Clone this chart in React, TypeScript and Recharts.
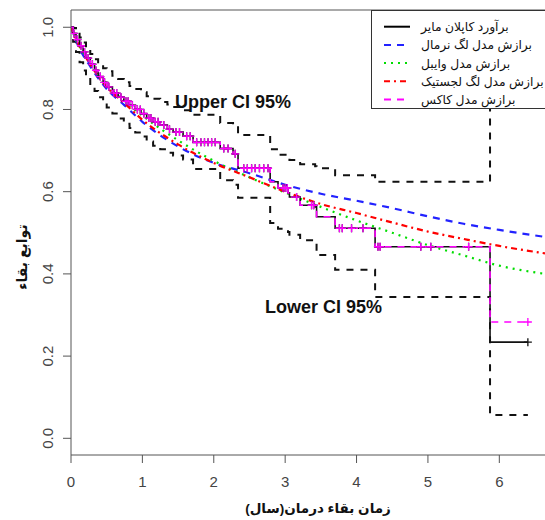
import React from "react";
import {
  ComposedChart,
  Line,
  Scatter,
  XAxis,
  YAxis,
  ReferenceLine,
  Legend,
} from "recharts";

// axis ticks
const xTicks = [0, 1, 2, 3, 4, 5, 6];
const yTicks = [0, 0.2, 0.4, 0.6, 0.8, 1.0];

// Kaplan-Meier step estimate and 95% CI (event times in years)
const kmTimes = [
  0, 0.03, 0.07, 0.12, 0.17, 0.21, 0.27, 0.33, 0.38, 0.45, 0.5, 0.58, 0.66,
  0.74, 0.82, 0.9, 0.98, 1.06, 1.15, 1.25, 1.35, 1.43, 1.57, 1.71, 2.09, 2.27,
  2.34, 2.79, 2.9, 3.04, 3.06, 3.21, 3.42, 3.44, 3.7, 4.26, 5.87, 6.4,
];
const kmSurv = [
  1.0, 0.985, 0.97, 0.955, 0.94, 0.925, 0.91, 0.895, 0.88, 0.866, 0.855, 0.84,
  0.83, 0.82, 0.81, 0.8, 0.79, 0.779, 0.77, 0.762, 0.752, 0.745, 0.735, 0.72,
  0.705, 0.692, 0.657, 0.624, 0.609, 0.597, 0.587, 0.567, 0.563, 0.539, 0.511,
  0.466, 0.234, 0.234,
];
const coxSurv = [
  1.0, 0.985, 0.97, 0.955, 0.94, 0.925, 0.91, 0.895, 0.88, 0.866, 0.855, 0.84,
  0.83, 0.82, 0.81, 0.8, 0.79, 0.779, 0.77, 0.762, 0.752, 0.745, 0.735, 0.72,
  0.705, 0.692, 0.657, 0.624, 0.609, 0.597, 0.587, 0.567, 0.563, 0.539, 0.511,
  0.466, 0.283, 0.283,
];
const ciUpper = [
  1.0, 0.998, 0.99, 0.975, 0.963, 0.95, 0.935, 0.922, 0.91, 0.9, 0.893, 0.882,
  0.874, 0.866, 0.857, 0.85, 0.842, 0.832, 0.826, 0.818, 0.812, 0.806, 0.798,
  0.787, 0.767, 0.762, 0.738, 0.703, 0.69, 0.682, 0.677, 0.667, 0.662, 0.657,
  0.64, 0.624, 1.0, 1.0,
];
const ciLower = [
  1.0, 0.965, 0.94, 0.915, 0.895, 0.88, 0.862, 0.845, 0.83, 0.815, 0.805, 0.79,
  0.778, 0.765, 0.755, 0.744, 0.734, 0.722, 0.712, 0.703, 0.695, 0.688, 0.678,
  0.655, 0.628, 0.617, 0.585, 0.524, 0.51, 0.502, 0.495, 0.482, 0.475, 0.446,
  0.41, 0.344, 0.057, 0.057,
];

// fitted parametric survival curves
const fitTimes = [0, 0.1, 0.25, 0.5, 0.75, 1, 1.5, 2, 2.5, 3, 3.5, 4, 4.5, 5, 5.5, 6, 6.64];
const logNormal = [1.0, 0.955, 0.91, 0.85, 0.81, 0.77, 0.71, 0.67, 0.645, 0.617, 0.595, 0.578, 0.56, 0.54, 0.522, 0.507, 0.49];
const weibull = [1.0, 0.96, 0.92, 0.86, 0.82, 0.785, 0.725, 0.675, 0.635, 0.598, 0.563, 0.53, 0.5, 0.47, 0.445, 0.42, 0.4];
const logLogistic = [1.0, 0.96, 0.915, 0.855, 0.815, 0.775, 0.715, 0.67, 0.635, 0.6, 0.57, 0.548, 0.525, 0.503, 0.485, 0.468, 0.45];

// censored observations
const censorTimes = [
  0.04, 0.09, 0.14, 0.19, 0.24, 0.3, 0.35, 0.41, 0.47, 0.53, 0.6, 0.64, 0.7,
  0.77, 0.8, 0.86, 0.93, 0.97, 1.02, 1.09, 1.12, 1.18, 1.22, 1.3, 1.38, 1.47,
  1.52, 1.62, 1.67, 1.76, 1.82, 1.87, 1.92, 1.97, 2.02, 2.14, 2.2, 2.3, 2.42,
  2.47, 2.53, 2.58, 2.64, 2.7, 2.76, 2.97, 3.0, 3.03, 3.16, 3.37, 3.4, 3.76,
  3.8, 3.93, 4.09, 4.3, 4.33, 4.9, 5.04, 5.57, 6.4,
];

const legendLabels = [
  "برآورد کاپلان مایر",
  "برازش مدل لگ نرمال",
  "برازش مدل وایبل",
  "برازش مدل لگ لجستیک",
  "برازش مدل کاکس",
];
const legendStyles = [
  { color: "#000000", dash: undefined },
  { color: "#2222ff", dash: "7 6" },
  { color: "#00dd00", dash: "2 5" },
  { color: "#ff0000", dash: "6 4 2 4" },
  { color: "#ff00ff", dash: "7 6" },
];

const toRows = (times: number[], vals: number[]) =>
  times.map((t, i) => ({ t, s: vals[i] }));

// value of a step curve at time t
const stepAt = (times: number[], vals: number[], t: number) => {
  let v = vals[0];
  for (let i = 0; i < times.length; i++) if (times[i] <= t) v = vals[i];
  return v;
};

const kmRows = toRows(kmTimes, kmSurv);
const coxRows = toRows(kmTimes, coxSurv);
const upperRows = toRows(kmTimes, ciUpper);
const lowerRows = toRows(kmTimes, ciLower);
const lnRows = toRows(fitTimes, logNormal);
const wbRows = toRows(fitTimes, weibull);
const llRows = toRows(fitTimes, logLogistic);
const kmCensor = censorTimes.map((t) => ({ t, s: stepAt(kmTimes, kmSurv, t) }));
const coxCensor = censorTimes.map((t) => ({ t, s: stepAt(kmTimes, coxSurv, t) }));

const FONT = "'Liberation Sans', Arial, 'DejaVu Sans', sans-serif";

const plus = (color: string) => (props: any) => {
  const { cx, cy } = props;
  return (
    <path
      d={`M${cx - 4},${cy}H${cx + 4}M${cx},${cy - 4}V${cy + 4}`}
      stroke={color}
      strokeWidth={1.3}
      fill="none"
    />
  );
};

const YTick = (props: any) => {
  const { x, y, payload } = props;
  return (
    <g transform={`translate(${x - 8},${y}) rotate(-90)`}>
      <text textAnchor="middle" fill="#444" fontSize={15} fontFamily={FONT}>
        {Number(payload.value).toFixed(1)}
      </text>
    </g>
  );
};

const LegendBox = () => (
  <svg width={174} height={100} style={{ display: "block" }}>
    <rect x={0.5} y={0.5} width={220} height={98} fill="#fff" stroke="#333" />
    {legendLabels.map((label, i) => {
      const cy = 16.7 + i * 18.2;
      return (
        <g key={label}>
          <line
            x1={13}
            x2={39}
            y1={cy}
            y2={cy}
            stroke={legendStyles[i].color}
            strokeWidth={2}
            strokeDasharray={legendStyles[i].dash}
          />
          <text x={50} y={cy + 4.5} fontSize={12.3} fontFamily={FONT} fill="#111">
            {label}
          </text>
        </g>
      );
    })}
  </svg>
);

export default function App() {
  return (
    <div style={{ position: "absolute", left: 0, top: 0, fontFamily: FONT }}>
      <ComposedChart
        width={545}
        height={520}
        margin={{ top: 10, right: 0, bottom: 0, left: 0 }}
      >
        <XAxis
          dataKey="t"
          type="number"
          domain={[0, 6.64]}
          ticks={xTicks}
          allowDataOverflow
          height={65}
          tickSize={8}
          tickMargin={13}
          stroke="#555"
          tick={{ fill: "#444", fontSize: 15, fontFamily: FONT }}
        />
        <YAxis
          type="number"
          domain={[-0.0406, 1.042]}
          ticks={yTicks}
          allowDataOverflow
          width={71}
          tickSize={8}
          stroke="#555"
          tick={<YTick />}
        />
        <ReferenceLine y={1.042} stroke="#555" />

        <Line data={upperRows} dataKey="s" type="stepAfter" stroke="#111" strokeWidth={2} strokeDasharray="7 7" dot={false} isAnimationActive={false} />
        <Line data={lowerRows} dataKey="s" type="stepAfter" stroke="#111" strokeWidth={2} strokeDasharray="7 7" dot={false} isAnimationActive={false} />
        <Line data={lnRows} dataKey="s" type="monotone" stroke="#2222ff" strokeWidth={2.2} strokeDasharray="7 6" dot={false} isAnimationActive={false} />
        <Line data={wbRows} dataKey="s" type="monotone" stroke="#00dd00" strokeWidth={2.2} strokeDasharray="2 5" dot={false} isAnimationActive={false} />
        <Line data={llRows} dataKey="s" type="monotone" stroke="#ff0000" strokeWidth={2.2} strokeDasharray="6 4 2 4" dot={false} isAnimationActive={false} />
        <Line data={kmRows} dataKey="s" type="stepAfter" stroke="#111" strokeWidth={1.6} dot={false} isAnimationActive={false} />
        <Scatter data={kmCensor} dataKey="s" shape={plus("#111")} isAnimationActive={false} />
        <Line data={coxRows} dataKey="s" type="stepAfter" stroke="#ff00ff" strokeWidth={1.6} strokeDasharray="7 6" dot={false} isAnimationActive={false} />
        <Scatter data={coxCensor} dataKey="s" shape={plus("#ff00ff")} isAnimationActive={false} />

        <text x={175} y={108} fontSize={18} fontWeight="bold" fontFamily={FONT} fill="#111">
          Upper CI 95%
        </text>
        <text x={265} y={313} fontSize={18} fontWeight="bold" fontFamily={FONT} fill="#111">
          Lower CI 95%
        </text>
        <text x={318} y={513} textAnchor="middle" fontSize={13.5} fontWeight="bold" fontFamily={FONT} fill="#111">
          زمان بقاء درمان(سال)
        </text>
        <text transform="translate(27,257) rotate(-90)" textAnchor="middle" fontSize={14} fontWeight="bold" fontFamily={FONT} fill="#111">
          توابع بقاء
        </text>

        <Legend
          layout="horizontal"
          verticalAlign="middle"
          align="center"
          content={() => <LegendBox />}
          wrapperStyle={{ left: 371, top: 10, width: 174, height: 100 }}
        />
      </ComposedChart>
    </div>
  );
}
